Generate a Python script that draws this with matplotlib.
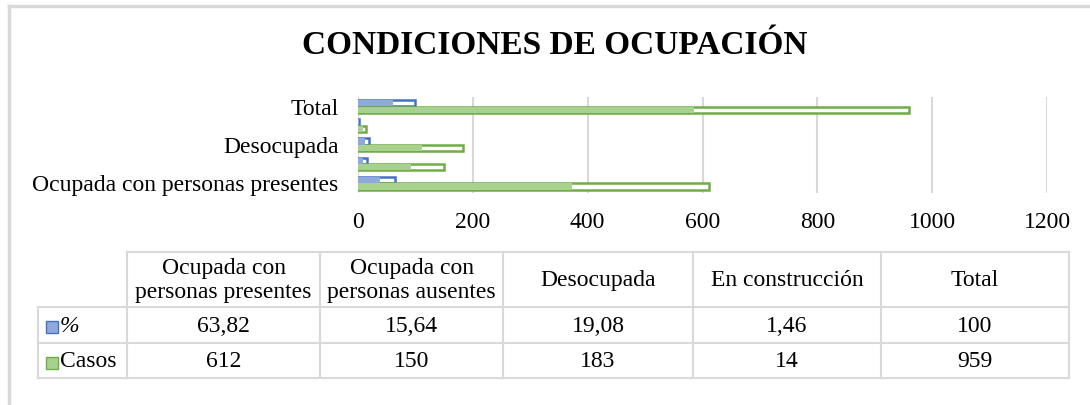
import numpy as np
import matplotlib.pyplot as plt

categorias = ['Ocupada con personas presentes', 'Ocupada con personas ausentes',
              'Desocupada', 'En construcción', 'Total']
etiquetas_eje = ['Ocupada con personas presentes', '', 'Desocupada', '', 'Total']
cabecera = ['Ocupada con\npersonas presentes', 'Ocupada con\npersonas ausentes',
            'Desocupada', 'En construcción', 'Total']
porcentaje = [63.82, 15.64, 19.08, 1.46, 100]
casos = [612, 150, 183, 14, 959]
porcentaje_txt = ['63,82', '15,64', '19,08', '1,46', '100']
casos_txt = ['612', '150', '183', '14', '959']
xticks = [0, 200, 400, 600, 800, 1000, 1200]

plt.rcParams['font.family'] = ['Liberation Serif', 'DejaVu Serif']

W, H = 1090, 405
fig = plt.figure(figsize=(W / 100, H / 100), dpi=100)

azul_borde, azul_fill = '#4472c4', '#8eaadb'
verde_borde, verde_fill = '#70ad47', '#a9d18e'
gris = '#d9d9d9'

# chart area
ax = fig.add_axes([358 / W, 1 - 193 / H, 689 / W, 96 / H])
y = np.arange(len(categorias))
h = 0.32
for serie, off, borde, fill in [(porcentaje, h / 2 + 0.02, azul_borde, azul_fill),
                                (casos, -h / 2, verde_borde, verde_fill)]:
    v = np.array(serie)
    ax.barh(y + off, v, height=h, color='white', edgecolor=borde, linewidth=1.8, zorder=3)
    ax.barh(y + off, v * 0.61, height=h, color=fill, edgecolor='none', zorder=4)

ax.set_xlim(0, 1200)
ax.set_ylim(-0.5, len(categorias) - 0.5)
ax.set_xticks(xticks)
ax.set_xticklabels([str(t) for t in xticks], fontsize=17)
ax.set_yticks(y)
ax.set_yticklabels(etiquetas_eje, fontsize=17)
ax.tick_params(length=0)
ax.tick_params(axis='x', pad=14)
ax.tick_params(axis='y', pad=14)
ax.grid(axis='x', color=gris, linewidth=1.5, zorder=0)
for s in ax.spines.values():
    s.set_visible(False)

# overlay in pixel coordinates for title, table and border
ov = fig.add_axes([0, 0, 1, 1], zorder=-1)
ov.set_xlim(0, W)
ov.set_ylim(H, 0)
ov.axis('off')

ov.plot([9, W], [6, 6], color=gris, lw=2.5)
ov.plot([9, 9], [6, H], color=gris, lw=2.5)

fig.text(555 / W, 1 - 46 / H, 'CONDICIONES DE OCUPACIÓN', ha='center', va='center',
         fontsize=24, fontweight='bold')

cols = [38, 127, 320, 503, 693, 881, 1069]
rows = [252, 307, 343, 378]
lw = 1.5
# horizontal lines
ov.plot([cols[1], cols[-1]], [rows[0], rows[0]], color=gris, lw=lw)
for r in rows[1:]:
    ov.plot([cols[0], cols[-1]], [r, r], color=gris, lw=lw)
# vertical lines
ov.plot([cols[0], cols[0]], [rows[1], rows[3]], color=gris, lw=lw)
for c in cols[1:]:
    ov.plot([c, c], [rows[0], rows[3]], color=gris, lw=lw)

fs = 17
for i in range(len(cabecera)):
    cx = (cols[i + 1] + cols[i + 2]) / 2
    ov.text(cx, (rows[0] + rows[1]) / 2 + 1, cabecera[i], ha='center', va='center',
            fontsize=fs, linespacing=1.2)
    ov.text(cx, (rows[1] + rows[2]) / 2 + 1, porcentaje_txt[i], ha='center', va='center', fontsize=fs)
    ov.text(cx, (rows[2] + rows[3]) / 2 + 1, casos_txt[i], ha='center', va='center', fontsize=fs)

for r0, r1, nombre, borde, fill in [(rows[1], rows[2], '%', azul_borde, azul_fill),
                                    (rows[2], rows[3], 'Casos', verde_borde, verde_fill)]:
    cy = (r0 + r1) / 2 + 1
    ov.add_patch(plt.Rectangle((46, cy - 5), 12, 12, facecolor=fill, edgecolor=borde, lw=1))
    ov.text(60, cy, nombre, ha='left', va='center', fontsize=fs,
            fontstyle='italic' if nombre == '%' else 'normal')

fig.savefig('out.png', dpi=100)
